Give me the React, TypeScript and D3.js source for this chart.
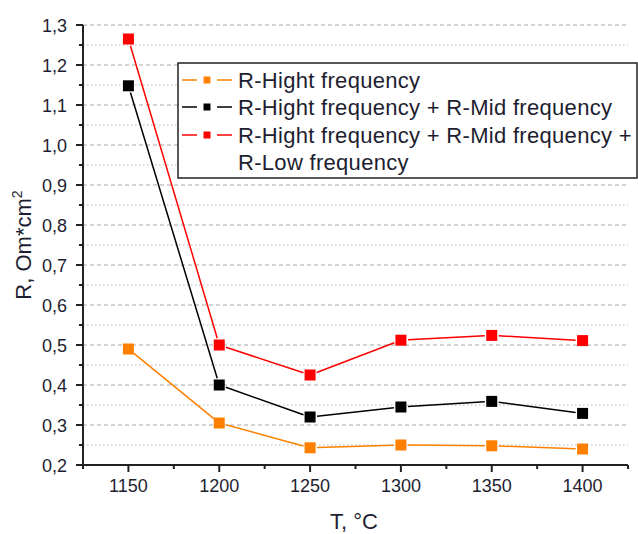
import React from 'react';
import * as d3 from 'd3';

// ── Data ────────────────────────────────────────────────────────────
const temps = [1150, 1200, 1250, 1300, 1350, 1400];
const rHigh = [0.49, 0.305, 0.243, 0.25, 0.248, 0.24];
const rHighMid = [1.148, 0.40, 0.32, 0.345, 0.359, 0.329];
const rHighMidLow = [1.265, 0.50, 0.425, 0.512, 0.524, 0.511];

const xTicks = [1150, 1200, 1250, 1300, 1350, 1400];
const xMinor = [1125, 1175, 1225, 1275, 1325, 1375, 1425];
const yTicks = [0.2, 0.3, 0.4, 0.5, 0.6, 0.7, 0.8, 0.9, 1.0, 1.1, 1.2, 1.3];
const yMinor = [0.25, 0.35, 0.45, 0.55, 0.65, 0.75, 0.85, 0.95, 1.05, 1.15, 1.25];

const series = [
  { name: 'R-Hight frequency', values: rHigh, color: '#ff8000' },
  { name: 'R-Hight frequency + R-Mid frequency', values: rHighMid, color: '#000000' },
  { name: 'R-Hight frequency + R-Mid frequency +', name2: 'R-Low frequency', values: rHighMidLow, color: '#ff0000' },
];

const W = 638;
const H = 534;
const mg = { left: 83, right: 628, top: 25, bottom: 465 };
const FONT = '"Liberation Sans", Arial, sans-serif';
const TXT = '#1e1e30';

const x = d3.scaleLinear().domain([1125, 1425]).range([mg.left, mg.right]);
const y = d3.scaleLinear().domain([0.2, 1.3]).range([mg.bottom, mg.top]);

const fmt = (v: number) => v.toFixed(1).replace('.', ',');

// Origin-style line: segments stop short of the markers
function gapSegments(pts: [number, number][], gap: number) {
  const segs: string[] = [];
  for (let i = 0; i < pts.length - 1; i++) {
    const [x1, y1] = pts[i];
    const [x2, y2] = pts[i + 1];
    const len = Math.hypot(x2 - x1, y2 - y1);
    if (len <= gap * 2) continue;
    const ux = (x2 - x1) / len, uy = (y2 - y1) / len;
    segs.push(`M${x1 + ux * gap},${y1 + uy * gap}L${x2 - ux * gap},${y2 - uy * gap}`);
  }
  return segs.join('');
}

export default function App() {
  const legendRows = [80, 107, 135, 162];
  return (
    <svg width={W} height={H} style={{ position: 'absolute', left: 0, top: 0, background: '#fff' }} fontFamily={FONT}>
      {/* grid */}
      {yMinor.map(v => (
        <line key={'gm' + v} x1={mg.left} x2={mg.right} y1={y(v)} y2={y(v)}
          stroke="#b4b4b4" strokeWidth={1} strokeDasharray="1.5,2.5" />
      ))}
      {yTicks.filter(v => v > 0.2).map(v => (
        <line key={'gM' + v} x1={mg.left} x2={mg.right} y1={y(v)} y2={y(v)}
          stroke="#a8a8a8" strokeWidth={1} strokeDasharray="4,3" />
      ))}

      {/* axes */}
      <line x1={mg.left} x2={mg.left} y1={mg.top} y2={mg.bottom + 1} stroke="#222" strokeWidth={2} />
      <line x1={mg.left - 1} x2={mg.right} y1={mg.bottom} y2={mg.bottom} stroke="#222" strokeWidth={2} />
      {yTicks.map(v => (
        <g key={'yt' + v}>
          <line x1={mg.left - 7} x2={mg.left} y1={y(v)} y2={y(v)} stroke="#222" strokeWidth={2} />
          <text x={67} y={y(v) + 6.5} textAnchor="end" fontSize={18} fill={TXT}>{fmt(v)}</text>
        </g>
      ))}
      {yMinor.map(v => (
        <line key={'ym' + v} x1={mg.left - 4} x2={mg.left} y1={y(v)} y2={y(v)} stroke="#222" strokeWidth={2} />
      ))}
      {xTicks.map(v => (
        <g key={'xt' + v}>
          <line x1={x(v)} x2={x(v)} y1={mg.bottom} y2={mg.bottom + 7} stroke="#222" strokeWidth={2} />
          <text x={x(v)} y={492} textAnchor="middle" fontSize={18} fill={TXT}>{v}</text>
        </g>
      ))}
      {xMinor.map(v => (
        <line key={'xm' + v} x1={x(v)} x2={x(v)} y1={mg.bottom} y2={mg.bottom + 4} stroke="#222" strokeWidth={2} />
      ))}

      {/* axis titles */}
      <text x={354} y={529} textAnchor="middle" fontSize={22} fill={TXT}>T, °C</text>
      <text transform="translate(31,245) rotate(-90)" textAnchor="middle" fontSize={22} fill={TXT}>
        R, Om*cm<tspan fontSize={14} dy={-9}>2</tspan>
      </text>

      {/* series */}
      {series.map(s => {
        const pts = temps.map((t, i) => [x(t), y(s.values[i])] as [number, number]);
        return (
          <g key={s.name}>
            <path d={gapSegments(pts, 7)} fill="none" stroke={s.color} strokeWidth={1.5} />
            {pts.map(([px, py], i) => (
              <rect key={i} x={px - 5.5} y={py - 5.5} width={11} height={11} fill={s.color} />
            ))}
          </g>
        );
      })}

      {/* legend */}
      <rect x={178} y={63} width={459} height={115} fill="#fff" stroke="#222" strokeWidth={1.5} />
      {series.map((s, i) => (
        <g key={'lg' + i}>
          <line x1={182} x2={197} y1={legendRows[i]} y2={legendRows[i]} stroke={s.color} strokeWidth={1.5} />
          <line x1={217} x2={232} y1={legendRows[i]} y2={legendRows[i]} stroke={s.color} strokeWidth={1.5} />
          <rect x={203.5} y={legendRows[i] - 3.5} width={7} height={7} fill={s.color} />
          <text x={238} y={legendRows[i] + 8} fontSize={22} letterSpacing={0.3} fill={TXT}>{s.name}</text>
        </g>
      ))}
      <text x={238} y={legendRows[3] + 8} fontSize={22} letterSpacing={0.3} fill={TXT}>{series[2].name2}</text>
    </svg>
  );
}
